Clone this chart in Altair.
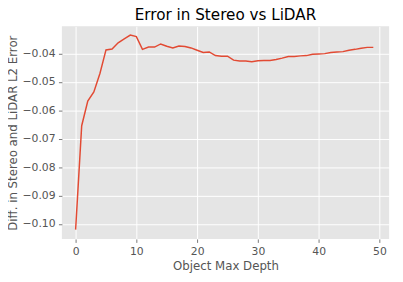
import altair as alt
import pandas as pd

depth = list(range(50))
diff = [-0.102, -0.0654, -0.0567, -0.0535, -0.047, -0.0387, -0.0384, -0.0362, -0.0348, -0.0335,
        -0.034, -0.0385, -0.0377, -0.0377, -0.0366, -0.0374, -0.038, -0.0373, -0.0375, -0.038,
        -0.0388, -0.0396, -0.0394, -0.0407, -0.0409, -0.0409, -0.0423, -0.0426, -0.0426, -0.0429,
        -0.0425, -0.0424, -0.0424, -0.0421, -0.0416, -0.041, -0.041, -0.0408, -0.0407, -0.0402,
        -0.0401, -0.04, -0.0396, -0.0394, -0.0393, -0.0388, -0.0385, -0.0381, -0.0378, -0.0378]
x_ticks = [0, 10, 20, 30, 40, 50]
y_ticks = [-0.10, -0.09, -0.08, -0.07, -0.06, -0.05, -0.04]

df = pd.DataFrame({"depth": depth, "diff": diff})

font = "DejaVu Sans"
chart = alt.Chart(df).mark_line(color="#E24A33", strokeWidth=1.5, clip=True).encode(
    x=alt.X("depth:Q", title="Object Max Depth",
            scale=alt.Scale(domain=[-2.26, 51.6], nice=False, zero=False),
            axis=alt.Axis(values=x_ticks, format="d")),
    y=alt.Y("diff:Q", title="Diff. in Stereo and LiDAR L2 Error",
            scale=alt.Scale(domain=[-0.1053, -0.0304], nice=False, zero=False),
            axis=alt.Axis(values=y_ticks, format=".2f")),
).properties(
    width=334, height=217,
    title=alt.TitleParams("Error in Stereo vs LiDAR", font=font, fontSize=15.5,
                          fontWeight="normal", color="#000000", offset=3.5),
    autosize=alt.AutoSizeParams(type="none"),
    padding={"left": 55, "top": 16, "right": 6, "bottom": 32},
).configure_view(
    fill="#E5E5E5", stroke=None
).configure_axis(
    labelFont=font, labelFontSize=11, labelColor="#555555",
    titleFont=font, titleFontSize=12, titleColor="#555555", titleFontWeight="normal",
    gridColor="#FFFFFF", gridWidth=1, domain=False,
    tickColor="#555555", tickSize=3.5, tickWidth=0.8, labelPadding=3.5,
).configure_axisX(titlePadding=4).configure_axisY(titlePadding=2.5)

chart.save("out.html", embed_options={"renderer": "svg", "actions": False})
